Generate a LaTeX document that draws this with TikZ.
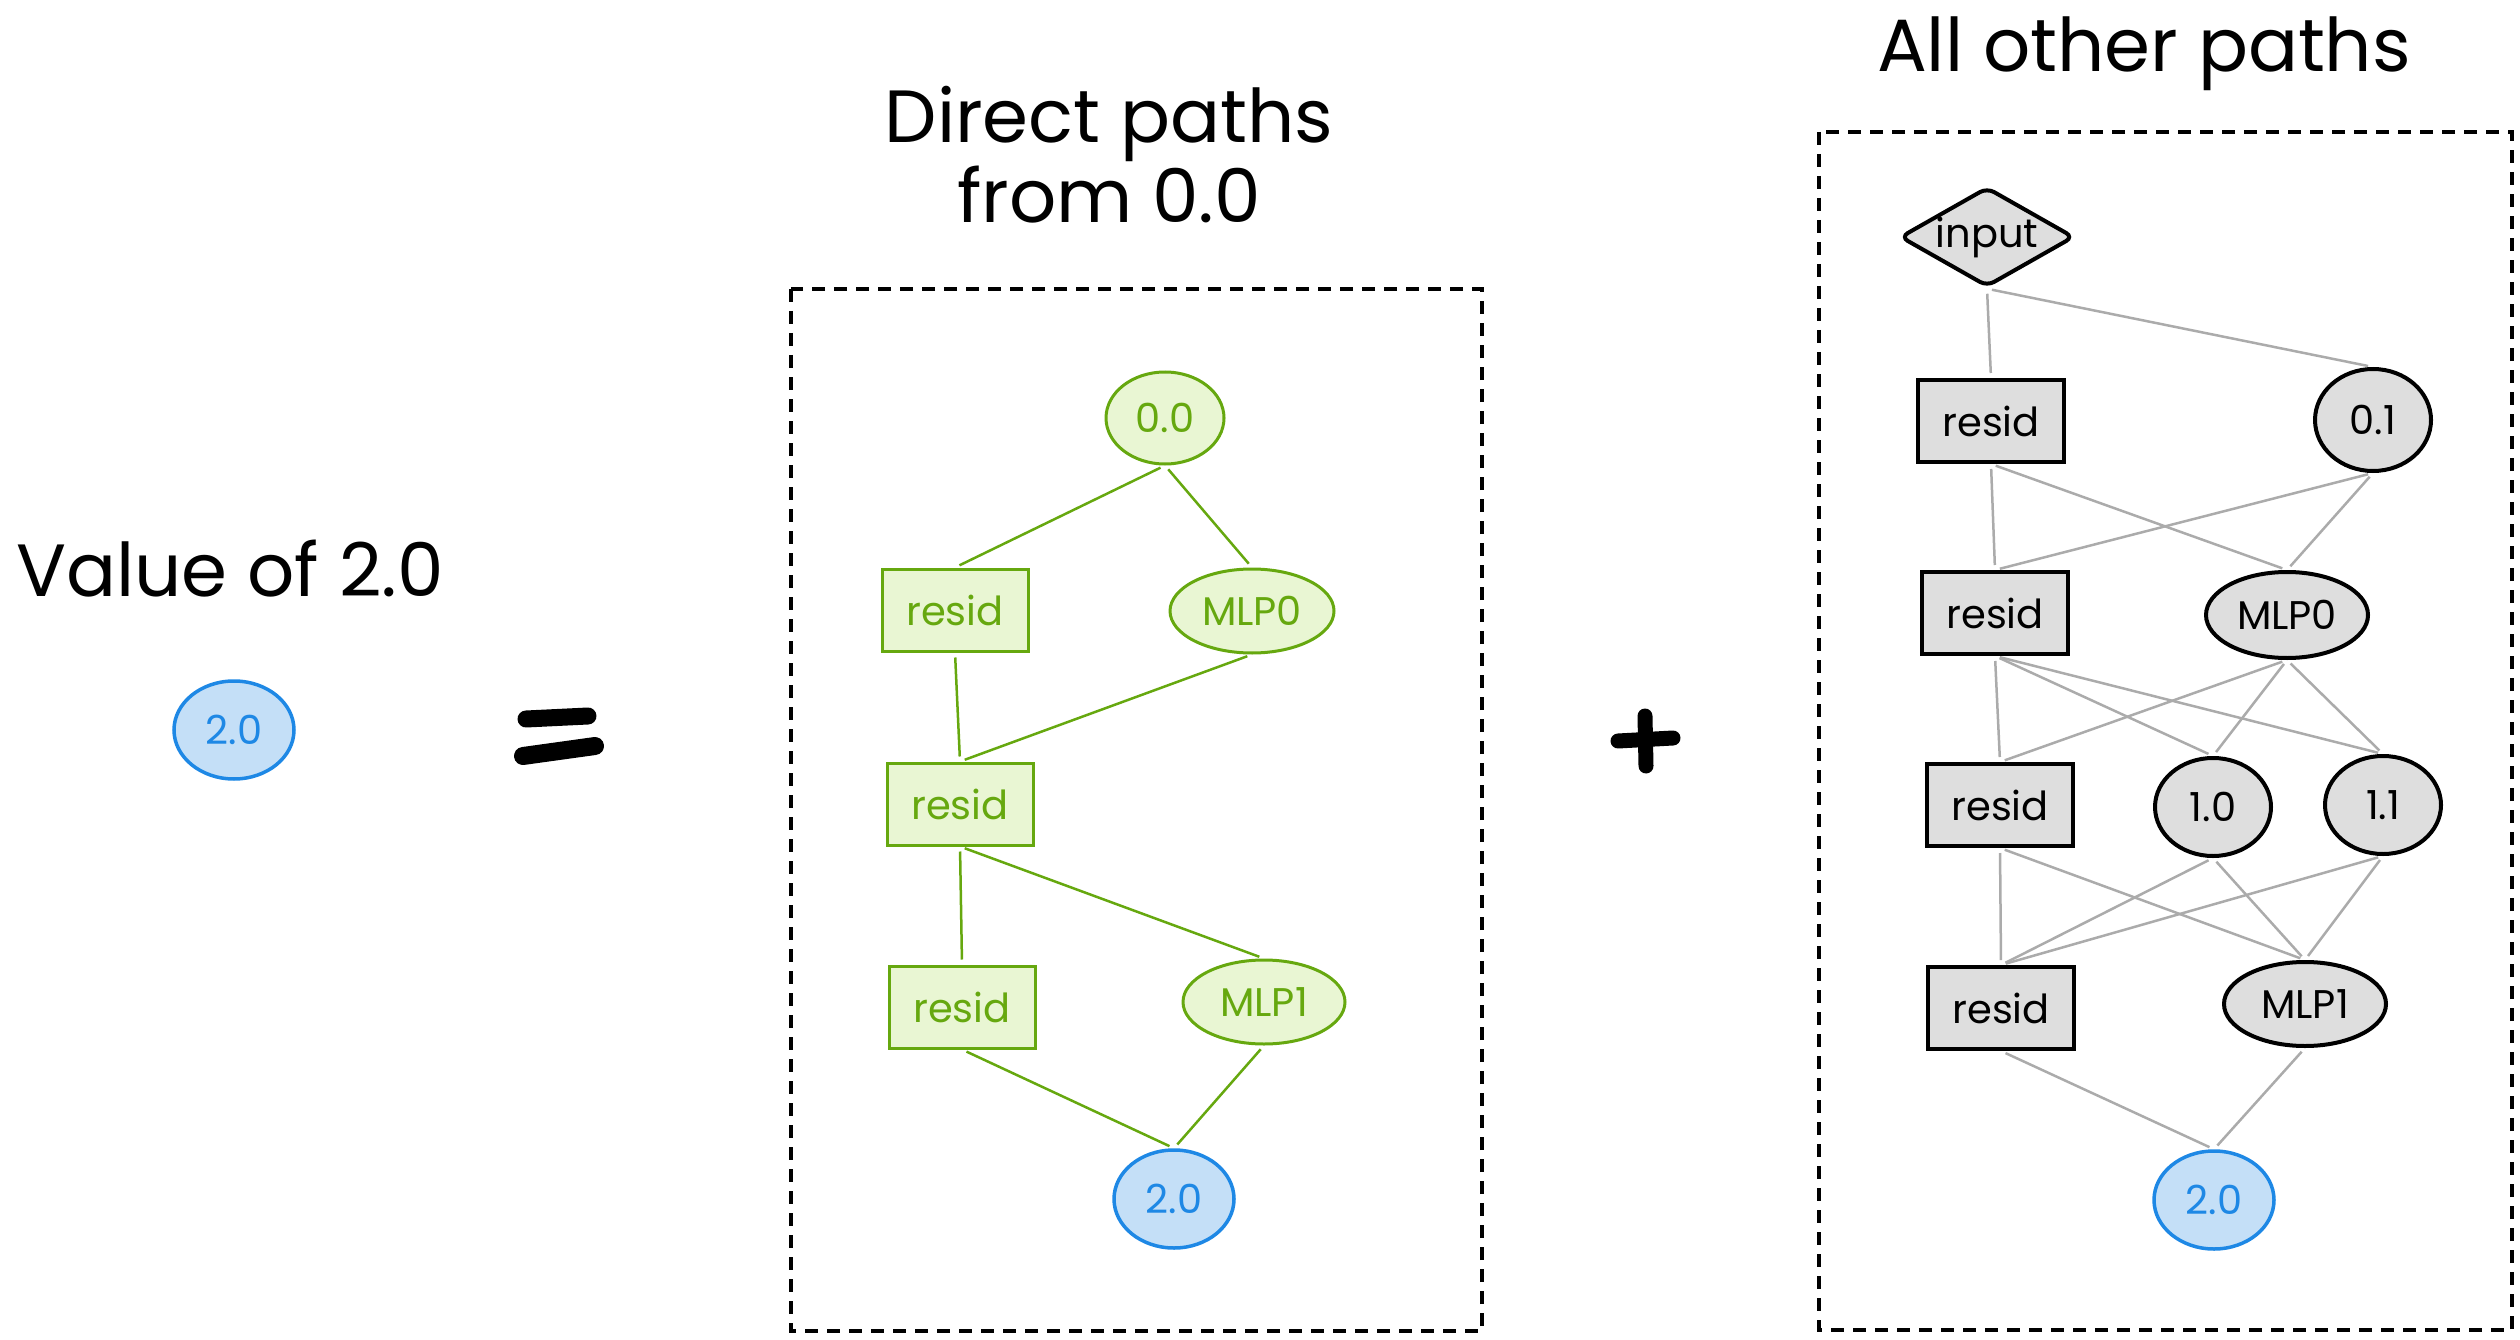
\documentclass[tikz,border=0pt]{standalone}
\usepackage{fontspec}
\setmainfont{Poppins}
\usetikzlibrary{shapes.geometric}
\definecolor{pathgreen}{HTML}{66A80F}
\definecolor{pathgreenfill}{HTML}{E9F6D3}
\definecolor{valblue}{HTML}{1E88E5}
\definecolor{valbluefill}{HTML}{C4DFF7}
\definecolor{nodegray}{HTML}{DEDEDE}
\definecolor{edgegray}{HTML}{ABABAB}

\begin{document}
\begin{tikzpicture}[x=1pt, y=-1pt,
  title/.style={font=\fontsize{74}{80}\selectfont, align=center},
  lbl/.style={font=\fontsize{40}{42}\selectfont, inner sep=0pt},
  greenbox/.style={lbl, draw=pathgreen, fill=pathgreenfill, text=pathgreen, line width=3pt, minimum width=146pt, minimum height=82pt},
  greenoval/.style={lbl, ellipse, draw=pathgreen, fill=pathgreenfill, text=pathgreen, line width=3pt},
  bluedot/.style={lbl, ellipse, draw=valblue, fill=valbluefill, text=valblue, line width=3.5pt, minimum width=120pt, minimum height=98pt},
  graybox/.style={lbl, draw=black, fill=nodegray, line width=4pt, minimum width=146pt, minimum height=82pt},
  grayoval/.style={lbl, ellipse, draw=black, fill=nodegray, line width=4pt},
  greenedge/.style={draw=pathgreen, line width=2.5pt, shorten <=5pt, shorten >=5pt},
  grayedge/.style={draw=edgegray, line width=2.5pt, shorten <=5pt, shorten >=5pt},
  frame/.style={draw=black, line width=4.5pt, dash pattern=on 13pt off 9pt}
]
\useasboundingbox (0,0) rectangle (2520,1340);

% left side
\node[title] (valtitle) at (230,569) {Value of 2.0};
\node[bluedot] (valdot) at (234,730) {2.0};
\draw[line width=17pt, line cap=round] (526,719) -- (588,716);
\draw[line width=18pt, line cap=round] (523,756) -- (595,746);

% direct paths
\node[title] (directtitle) at (1109,155) {Direct paths\\from 0.0};
\draw[frame] (791,289) rectangle (1482,1331);
\node[greenoval, minimum width=118pt, minimum height=92pt] (d00) at (1165,418) {0.0};
\node[greenbox] (dres1) at (955,610) {resid};
\node[greenoval, minimum width=164pt, minimum height=84pt] (dmlp0) at (1252,611) {MLP0};
\node[greenbox] (dres2) at (960,804) {resid};
\node[greenbox] (dres3) at (962,1007) {resid};
\node[greenoval, minimum width=162pt, minimum height=84pt] (dmlp1) at (1264,1002) {MLP1};
\node[bluedot] (dout) at (1174,1199) {2.0};
\draw[greenedge] (d00.south) -- (dres1.north);
\draw[greenedge] (d00.south) -- (dmlp0.north);
\draw[greenedge] (dres1.south) -- (dres2.north);
\draw[greenedge] (dmlp0.south) -- (dres2.north);
\draw[greenedge] (dres2.south) -- (dres3.north);
\draw[greenedge] (dres2.south) -- (dmlp1.north);
\draw[greenedge] (dres3.south) -- (dout.north);
\draw[greenedge] (dmlp1.south) -- (dout.north);

\draw[line width=15pt, line cap=round] (1618,741) -- (1673,738);
\draw[line width=15pt, line cap=round] (1645,716) -- (1646,766);

% all other paths
\node[title] (othertitle) at (2144,54) {All other paths};
\draw[frame] (1819,132) rectangle (2512,1330);
\node[lbl, diamond, draw=black, fill=nodegray, line width=4pt, aspect=1.75, rounded corners=8pt, minimum width=170pt, minimum height=98pt] (input) at (1987,237) {input};
\node[graybox] (res1) at (1991,421) {resid};
\node[grayoval, minimum width=116pt, minimum height=102pt] (n01) at (2373,420) {0.1};
\node[graybox] (res2) at (1995,613) {resid};
\node[grayoval, minimum width=162pt, minimum height=86pt] (mlp0) at (2287,615) {MLP0};
\node[graybox] (res3) at (2000,805) {resid};
\node[grayoval, minimum width=116pt, minimum height=98pt] (n10) at (2213,807) {1.0};
\node[grayoval, minimum width=116pt, minimum height=98pt] (n11) at (2383,805) {1.1};
\node[graybox] (res4) at (2001,1008) {resid};
\node[grayoval, minimum width=162pt, minimum height=84pt] (mlp1) at (2305,1004) {MLP1};
\node[bluedot] (out) at (2214,1200) {2.0};
\draw[grayedge] (input.south) -- (res1.north);
\draw[grayedge] (input.south) -- (n01.north);
\draw[grayedge] (res1.south) -- (res2.north);
\draw[grayedge] (res1.south) -- (mlp0.north);
\draw[grayedge] (n01.south) -- (res2.north);
\draw[grayedge] (n01.south) -- (mlp0.north);
\draw[grayedge] (res2.south) -- (res3.north);
\draw[grayedge] (res2.south) -- (n10.north);
\draw[grayedge] (res2.south) -- (n11.north);
\draw[grayedge] (mlp0.south) -- (res3.north);
\draw[grayedge] (mlp0.south) -- (n10.north);
\draw[grayedge] (mlp0.south) -- (n11.north);
\draw[grayedge] (res3.south) -- (res4.north);
\draw[grayedge] (res3.south) -- (mlp1.north);
\draw[grayedge] (n10.south) -- (res4.north);
\draw[grayedge] (n10.south) -- (mlp1.north);
\draw[grayedge] (n11.south) -- (res4.north);
\draw[grayedge] (n11.south) -- (mlp1.north);
\draw[grayedge] (res4.south) -- (out.north);
\draw[grayedge] (mlp1.south) -- (out.north);
\end{tikzpicture}
\end{document}
